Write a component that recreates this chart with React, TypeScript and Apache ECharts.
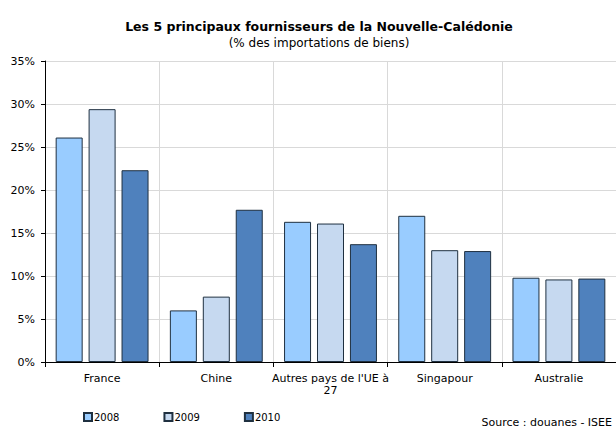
import React, { useEffect, useRef } from "react";
import * as echarts from "echarts";

const categories = ["France", "Chine", "Autres pays de l'UE à 27", "Singapour", "Australie"];
const years = ["2008", "2009", "2010"];
const v2008 = [26.1, 6.0, 16.3, 17.0, 9.8];
const v2009 = [29.4, 7.6, 16.1, 13.0, 9.6];
const v2010 = [22.3, 17.7, 13.7, 12.9, 9.7];
const colors = ["#99ccff", "#c6d9f0", "#4f81bd"];

const FONT = "DejaVu Sans";

export default function App() {
  const ref = useRef<HTMLDivElement>(null);
  useEffect(() => {
    if (!ref.current) return;
    const chart = echarts.init(ref.current, null, { renderer: "svg" });
    const data = [v2008, v2009, v2010];
    chart.setOption({
      animation: false,
      backgroundColor: "#ffffff",
      title: {
        text: "Les 5 principaux fournisseurs de la Nouvelle-Calédonie",
        subtext: "(% des importations de biens)",
        left: 314,
        textAlign: "center",
        top: 15,
        itemGap: 4,
        textStyle: { fontFamily: FONT, fontSize: 12.5, fontWeight: "bold", color: "#000" },
        subtextStyle: { fontFamily: FONT, fontSize: 12, color: "#000" },
      },
      legend: {
        data: years,
        left: 78,
        top: 407,
        itemWidth: 8,
        itemHeight: 8,
        itemGap: 44,
        icon: "rect",
        textStyle: { fontFamily: FONT, fontSize: 10, color: "#000", padding: [0, 0, 0, -3] },
      },
      graphic: [
        {
          type: "text",
          right: 4,
          top: 417,
          style: { text: "Source : douanes - ISEE", fontFamily: FONT, fontSize: 11, fill: "#000" },
        },
      ],
      grid: { left: 45, right: -1, top: 61, bottom: 66, containLabel: false },
      xAxis: {
        type: "category",
        data: categories,
        axisLine: { lineStyle: { color: "#000", width: 1 } },
        axisTick: { show: true, length: 5, lineStyle: { color: "#000" } },
        splitLine: { show: true, lineStyle: { color: "#d9d9d9" } },
        axisLabel: {
          fontFamily: FONT,
          fontSize: 11,
          color: "#000",
          margin: 10,
          interval: 0,
          lineHeight: 12,
          formatter: (v: string) => v.replace(" 27", "\n27"),
        },
      },
      yAxis: {
        type: "value",
        min: 0,
        max: 35,
        interval: 5,
        axisLine: { show: true, lineStyle: { color: "#000", width: 1 } },
        axisTick: { show: true, length: 4, lineStyle: { color: "#000" } },
        splitLine: { show: true, lineStyle: { color: "#d9d9d9" } },
        axisLabel: { fontFamily: FONT, fontSize: 11, color: "#000", margin: 10, formatter: "{value}%" },
      },
      series: years.map((y, i) => ({
        name: y,
        type: "bar",
        data: data[i],
        barWidth: 27,
        barGap: "22%",
        itemStyle: { color: colors[i], borderColor: "#1f3040", borderWidth: 1 },
      })),
    });
    return () => chart.dispose();
  }, []);
  return <div ref={ref} style={{ width: 616, height: 428, position: "absolute", left: 0, top: 0 }} />;
}
